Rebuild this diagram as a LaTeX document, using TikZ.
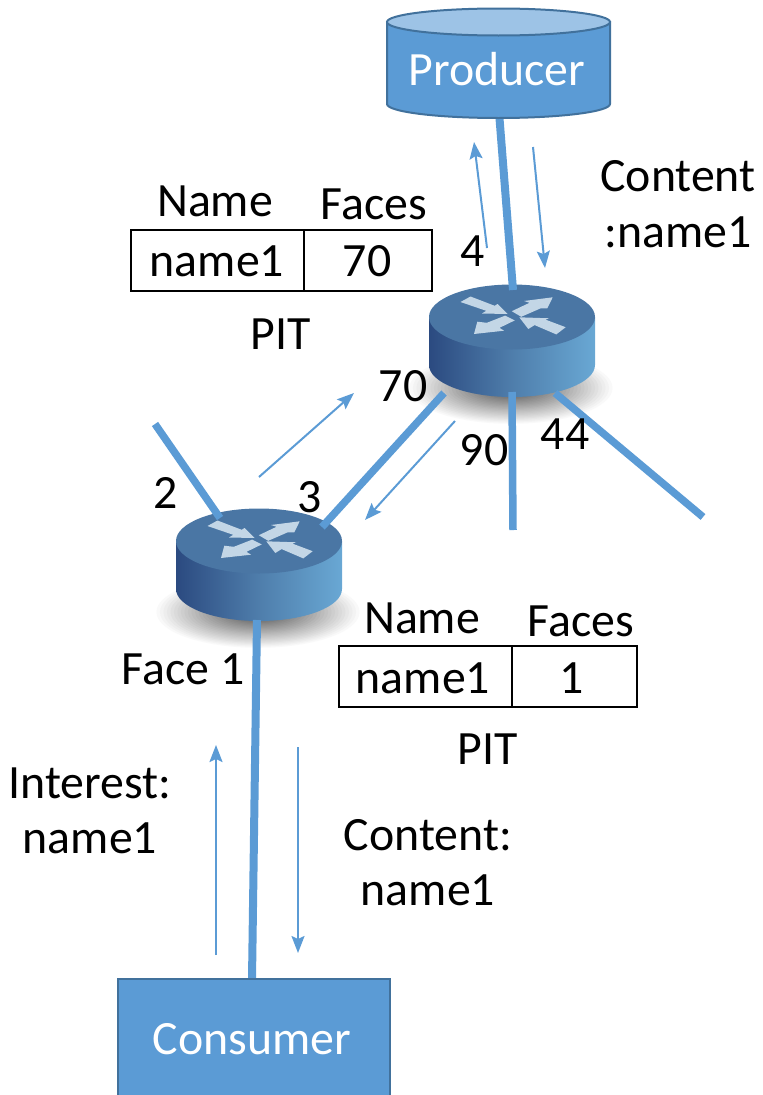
\documentclass[tikz,border=0pt]{standalone}
\usepackage{fontspec}
\setmainfont{Carlito}
\definecolor{blu}{HTML}{5B9BD5}
\definecolor{edge}{HTML}{41719C}
\definecolor{lid}{HTML}{9DC3E6}
\definecolor{rtop}{HTML}{4A76A4}
\definecolor{rleft}{HTML}{2B4A80}
\definecolor{rright}{HTML}{69A8D4}
\definecolor{rarrow}{HTML}{C3D6E6}
\usetikzlibrary{arrows.meta}
\tikzset{
  txt/.style={anchor=base,inner sep=0pt,font=\fontsize{47.8}{56}\selectfont,align=center,text=black},
  wtxt/.style={txt,text=white},
  cell/.style={draw=black,line width=1.8pt,fill=white,inner sep=0pt,outer sep=0pt,minimum height=61pt},
  thick link/.style={draw=blu,line width=7.5pt},
  thin arrow/.style={draw=blu,line width=2pt,-{Stealth[length=17pt,width=13pt,inset=3pt]}},
  pt/.style={inner sep=0pt,minimum size=0pt},
}
\newcommand{\routerdraw}[3]{%
  \begin{scope}[shift={(#1,#2)}]
    \foreach \k in {0,1,...,30}{
      \pgfmathsetmacro{\rr}{1-\k/30}
      \pgfmathsetmacro{\gg}{72*(\k/30)}
      \fill[black!\gg!white] (-1,71) ellipse[x radius=105*\rr+0.01,y radius=37*\rr+0.01];
    }
    \path[left color=rleft,right color=rright,middle color=rtop!85!rright]
      (-83,0) -- (-83,48) arc[start angle=180,end angle=0,x radius=83,y radius=32] -- (83,0) -- cycle;
    \fill[rtop] (0,0) ellipse[x radius=83,y radius=32.5];
    \fill[rarrow] (-51.5,-15)--(-41.5,-20.5)--(-17.3,-11.2)--(-14.5,-13)--(-4.3,-3)--(-30,-3.5)--(-25.8,-6.2)--cycle;
    \fill[rarrow] (-0.2,-5.8)--(17.5,-14.2)--(12,-16)--(40.7,-19.7)--(35.3,-8.7)--(28.5,-8.6)--(9.2,-0.2)--cycle;
    \fill[rarrow] (-6.8,-1.4)--(-25.2,5.8)--(-34.7,4.7)--(-38,17)--(-8,13.7)--(-12.5,10.8)--(2.8,3.4)--cycle;
    \fill[rarrow] (7.3,0.3)--(37.3,1.3)--(33.4,2.6)--(53.7,10.2)--(44.3,17.4)--(22.6,8.1)--(16.3,12)--cycle;
    \node[pt] (#3) at (0,0) {};
  \end{scope}}
\begin{document}
\begin{tikzpicture}[x=1pt,y=-1pt]
\useasboundingbox (0,0) rectangle (763,1095);
% free ends of links
\coordinate (pb) at (499,112);
\coordinate (r1t) at (513,290);
\coordinate (r1a) at (444,393);
\coordinate (r2e) at (322,527);
\coordinate (r1b) at (512,392);
\coordinate (e90) at (513,530);
\coordinate (r1c) at (555,393);
\coordinate (e44) at (703,517);
\coordinate (e2) at (155,424);
\coordinate (r2w) at (220,518);
\coordinate (r2b) at (257,620);
\coordinate (cons) at (252,979);
% routers and links
\routerdraw{512}{317}{routerA}
\routerdraw{259}{541}{routerB}
\draw[thick link,line width=8pt] (pb) -- (r1t);
\draw[thick link] (r1a) -- (r2e);
\draw[thick link] (r1b) -- (e90);
\draw[thick link] (r1c) -- (e44);
\draw[thick link] (e2) -- (r2w);
\draw[thick link,line width=8pt] (r2b) -- (cons);
% producer
\path[fill=blu,draw=edge,line width=2pt] (387,22) -- (387,104) arc[start angle=180,end angle=0,x radius=111.5,y radius=14] -- (610,22) -- cycle;
\path[fill=lid,draw=edge,line width=2pt] (498.5,22) ellipse[x radius=111.5,y radius=13.5];
\node[wtxt] (producer) at (497,85) {Producer};
% consumer
\node[draw=edge,line width=2pt,fill=blu,outer sep=0pt,minimum width=272pt,minimum height=130pt,inner sep=0pt,anchor=north west] (consumerbox) at (117.5,978.5) {};
\node[wtxt] (consumer) at (252,1054) {Consumer};
% thin arrows
\coordinate (a1s) at (487,248); \coordinate (a1e) at (474,142);
\coordinate (a2s) at (533,147); \coordinate (a2e) at (545,268);
\coordinate (a3s) at (259,477); \coordinate (a3e) at (354,393);
\coordinate (a4s) at (455,421); \coordinate (a4e) at (365,520);
\coordinate (a5s) at (216,955); \coordinate (a5e) at (216,745);
\coordinate (a6s) at (298,747); \coordinate (a6e) at (298,953);
\draw[thin arrow] (a1s) -- (a1e);
\draw[thin arrow] (a2s) -- (a2e);
\draw[thin arrow] (a3s) -- (a3e);
\draw[thin arrow] (a4s) -- (a4e);
\draw[thin arrow] (a5s) -- (a5e);
\draw[thin arrow] (a6s) -- (a6e);
% PIT tables
\node[cell,minimum width=173pt,anchor=north west] (t1a) at (131,230) {};
\node[cell,minimum width=128pt,anchor=north west] (t1b) at (304,230) {};
\node[cell,minimum width=173pt,anchor=north west] (t2a) at (339,646) {};
\node[cell,minimum width=125pt,anchor=north west] (t2b) at (512,646) {};
\node[txt] (l1) at (215,216) {Name};
\node[txt] (l2) at (374,219) {Faces};
\node[txt] (l3) at (217,276) {name1};
\node[txt] (l4) at (367,276) {70};
\node[txt] (l5) at (281,349) {PIT};
\node[txt] (l6) at (422,633) {Name};
\node[txt] (l7) at (581,636) {Faces};
\node[txt] (l8) at (423,693) {name1};
\node[txt] (l9) at (572,693) {1};
\node[txt] (l10) at (488,764) {PIT};
% labels
\node[txt] (f4) at (473,266) {4};
\node[txt] (f70) at (403,401) {70};
\node[txt] (f90) at (484,465) {90};
\node[txt] (f44) at (565,449) {44};
\node[txt] (f2) at (166,508) {2};
\node[txt] (f3) at (310,512) {3};
\node[txt] (f1) at (183,684) {Face 1};
\node[txt] (c1a) at (678,191) {Content};
\node[txt] (c1b) at (678,247) {:name1};
\node[txt] (i1) at (90,798) {Interest:};
\node[txt] (i2) at (90,853) {name1};
\node[txt] (c2a) at (428,850) {Content:};
\node[txt] (c2b) at (428,905) {name1};
\end{tikzpicture}
\end{document}
